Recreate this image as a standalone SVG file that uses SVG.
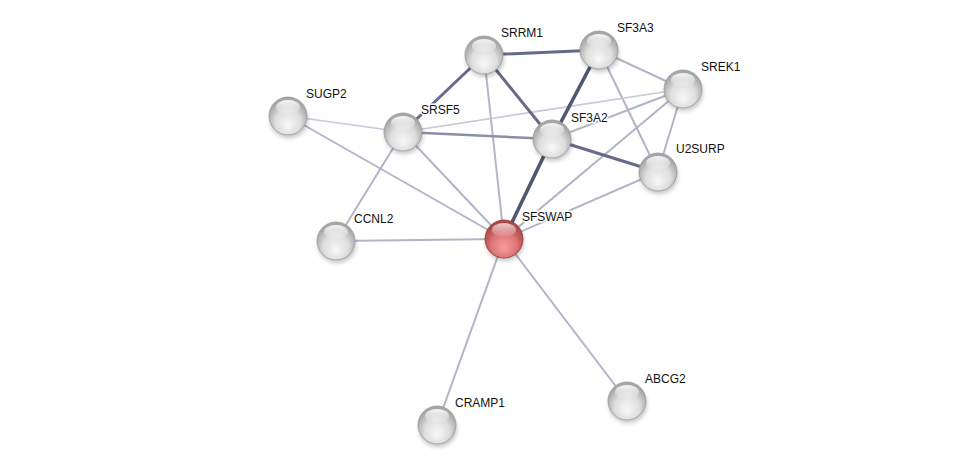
<svg xmlns="http://www.w3.org/2000/svg" width="975" height="470" viewBox="0 0 975 470">
<defs>
<radialGradient id="gGrey" cx="50%" cy="62%" r="55%" fx="50%" fy="75%">
<stop offset="0" stop-color="#f8f8f8"/>
<stop offset="0.6" stop-color="#dedede"/>
<stop offset="1" stop-color="#a6a6a6"/>
</radialGradient>
<radialGradient id="gRed" cx="50%" cy="62%" r="55%" fx="50%" fy="75%">
<stop offset="0" stop-color="#f49c9c"/>
<stop offset="0.6" stop-color="#dd7676"/>
<stop offset="1" stop-color="#ad4848"/>
</radialGradient>
<linearGradient id="gGloss" x1="0" y1="0" x2="0" y2="1">
<stop offset="0" stop-color="#ffffff" stop-opacity="0.9"/>
<stop offset="1" stop-color="#ffffff" stop-opacity="0.05"/>
</linearGradient>
<filter id="blur" x="-50%" y="-50%" width="200%" height="200%">
<feGaussianBlur stdDeviation="2"/>
</filter>
<g id="sphere">
<ellipse cx="1" cy="4" rx="19" ry="18" fill="#000" opacity="0.22" filter="url(#blur)"/>
<circle r="19" fill="url(#gGrey)" stroke="#9a9a9a" stroke-width="0.8"/>
<ellipse cx="0" cy="-9" rx="12" ry="7" fill="url(#gGloss)"/>
</g>
<g id="sphereRed">
<ellipse cx="1" cy="4" rx="19" ry="18" fill="#000" opacity="0.22" filter="url(#blur)"/>
<circle r="19" fill="url(#gRed)" stroke="#953434" stroke-width="0.8"/>
<ellipse cx="0" cy="-9" rx="12" ry="7" fill="url(#gGloss)" opacity="0.8"/>
</g>
</defs>
<style>
.e { stroke-linecap: round; fill: none; }
.l { stroke: #b2b5c8; stroke-width: 2; }
.ll { stroke: #c6c9d8; stroke-width: 1.6; }
.m { stroke: #8a90a8; stroke-width: 2.4; }
.d { stroke: #656c87; stroke-width: 3; }
.dd { stroke: #4f5772; stroke-width: 3.6; }
text { font-family: "Liberation Sans", Arial, sans-serif; font-size: 12px; fill: #111; stroke: #fff; stroke-width: 3; paint-order: stroke; stroke-linejoin: round; }
</style>
<rect width="975" height="470" fill="#fff"/>
<g id="connectors" class="e">
<line class="l" x1="484" y1="55" x2="504" y2="239"/>
<line class="l" x1="599" y1="50" x2="683" y2="89"/>
<line class="l" x1="599" y1="50" x2="658" y2="172"/>
<line class="ll" x1="683" y1="89" x2="403" y2="132"/>
<line class="l" x1="683" y1="89" x2="552" y2="139"/>
<line class="l" x1="683" y1="89" x2="658" y2="172"/>
<line class="l" x1="683" y1="89" x2="504" y2="239"/>
<line class="ll" x1="288" y1="116" x2="403" y2="132"/>
<line class="l" x1="288" y1="116" x2="504" y2="239"/>
<line class="m" x1="403" y1="132" x2="552" y2="139"/>
<line class="l" x1="403" y1="132" x2="504" y2="239"/>
<line class="l" x1="403" y1="132" x2="336" y2="241"/>
<line class="l" x1="658" y1="172" x2="504" y2="239"/>
<line class="l" x1="336" y1="241" x2="504" y2="239"/>
<line class="l" x1="504" y1="239" x2="627" y2="401"/>
<line class="l" x1="504" y1="239" x2="437" y2="425"/>
<line class="d" x1="484" y1="55" x2="599" y2="50"/>
<line class="d" x1="484" y1="55" x2="403" y2="132"/>
<line class="d" x1="484" y1="55" x2="552" y2="139"/>
<line class="d" x1="552" y1="139" x2="658" y2="172"/>
<line class="dd" x1="552" y1="139" x2="504" y2="239"/>
<line class="dd" x1="599" y1="50" x2="552" y2="139"/>
</g>
<g id="SRRM1"><use href="#sphere" x="484" y="55"/><text x="501" y="37">SRRM1</text></g>
<g id="SF3A3"><use href="#sphere" x="599" y="50"/><text x="617" y="32">SF3A3</text></g>
<g id="SREK1"><use href="#sphere" x="683" y="89"/><text x="701" y="71">SREK1</text></g>
<g id="SUGP2"><use href="#sphere" x="288" y="116"/><text x="306" y="98">SUGP2</text></g>
<g id="SRSF5"><use href="#sphere" x="403" y="132"/><text x="421" y="114">SRSF5</text></g>
<g id="SF3A2"><use href="#sphere" x="552" y="139"/><text x="571" y="122">SF3A2</text></g>
<g id="U2SURP"><use href="#sphere" x="658" y="172"/><text x="676" y="153">U2SURP</text></g>
<g id="CCNL2"><use href="#sphere" x="336" y="241"/><text x="354" y="223">CCNL2</text></g>
<g id="SFSWAP"><use href="#sphereRed" x="504" y="239"/><text x="522" y="221">SFSWAP</text></g>
<g id="ABCG2"><use href="#sphere" x="627" y="401"/><text x="645" y="383">ABCG2</text></g>
<g id="CRAMP1"><use href="#sphere" x="437" y="425"/><text x="455" y="407">CRAMP1</text></g>
</svg>
